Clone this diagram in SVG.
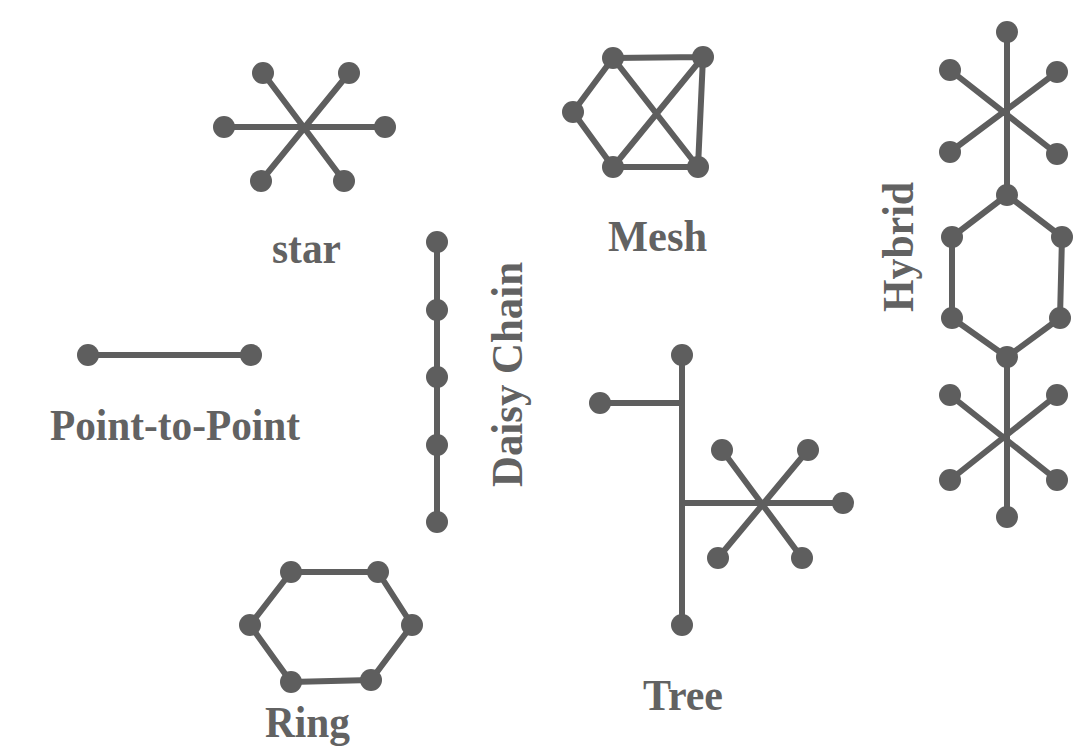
<svg xmlns="http://www.w3.org/2000/svg" width="1074" height="750" viewBox="0 0 1074 750">
<style>
.e{stroke:#5e5e5e;stroke-width:6;fill:none;stroke-linecap:round;stroke-linejoin:round}
.n{fill:#5e5e5e}
.t{font-family:"Liberation Serif","Times New Roman",serif;font-weight:bold;font-size:44px;fill:#626262}
</style>
<rect width="1074" height="750" fill="#ffffff"/>
<g id="connectors">
<path class="e" d="M224 127 L385 127 M263 73 L344 181 M349 73 L261 181"/>
<path class="e" d="M613 58 L703 57 L698 167 L613 167 L573 112 Z M613 58 L698 167 M703 57 L613 167"/>
<path class="e" d="M88 355 L251 355"/>
<path class="e" d="M437 242 L437 522"/>
<path class="e" d="M291 572 L378 572 L412 625 L371 680 L291 682 L250 625 Z"/>
<path class="e" d="M682 355 L682 625 M600 403 L682 403 M682 503 L843 503 M722 450 L802 558 M808 450 L718 558"/>
<path class="e" d="M1007 32 L1007 195 M950 70 L1057 154 M1057 72 L950 152"/>
<path class="e" d="M1007 195 L1062 237 L1060 318 L1007 357 L952 318 L952 237 Z"/>
<path class="e" d="M1007 357 L1007 517 M950 395 L1057 480 M1057 395 L950 480"/>
</g>
<g id="star">
<circle class="n" cx="263" cy="73" r="11"/><circle class="n" cx="349" cy="73" r="11"/>
<circle class="n" cx="224" cy="127" r="11"/><circle class="n" cx="385" cy="127" r="11"/>
<circle class="n" cx="261" cy="181" r="11"/><circle class="n" cx="344" cy="181" r="11"/>
<text class="t" x="272" y="263" textLength="69" lengthAdjust="spacingAndGlyphs">star</text>
</g>
<g id="mesh">
<circle class="n" cx="613" cy="58" r="11"/><circle class="n" cx="703" cy="57" r="11"/>
<circle class="n" cx="573" cy="112" r="11"/><circle class="n" cx="613" cy="167" r="11"/>
<circle class="n" cx="698" cy="167" r="11"/>
<text class="t" x="608" y="251" textLength="99" lengthAdjust="spacingAndGlyphs">Mesh</text>
</g>
<g id="point-to-point">
<circle class="n" cx="88" cy="355" r="11"/><circle class="n" cx="251" cy="355" r="11"/>
<text class="t" x="50" y="440" textLength="250" lengthAdjust="spacingAndGlyphs">Point-to-Point</text>
</g>
<g id="daisy-chain">
<circle class="n" cx="437" cy="242" r="11"/><circle class="n" cx="437" cy="310" r="11"/>
<circle class="n" cx="437" cy="377" r="11"/><circle class="n" cx="437" cy="445" r="11"/>
<circle class="n" cx="437" cy="522" r="11"/>
<text class="t" transform="translate(522 487) rotate(-90)" x="0" y="0" textLength="225" lengthAdjust="spacingAndGlyphs">Daisy Chain</text>
</g>
<g id="ring">
<circle class="n" cx="291" cy="572" r="11"/><circle class="n" cx="378" cy="572" r="11"/>
<circle class="n" cx="250" cy="625" r="11"/><circle class="n" cx="412" cy="625" r="11"/>
<circle class="n" cx="291" cy="682" r="11"/><circle class="n" cx="371" cy="680" r="11"/>
<text class="t" x="265" y="737" textLength="85" lengthAdjust="spacingAndGlyphs">Ring</text>
</g>
<g id="tree">
<circle class="n" cx="682" cy="355" r="11"/><circle class="n" cx="600" cy="403" r="11"/>
<circle class="n" cx="682" cy="625" r="11"/><circle class="n" cx="843" cy="503" r="11"/>
<circle class="n" cx="722" cy="450" r="11"/><circle class="n" cx="808" cy="450" r="11"/>
<circle class="n" cx="718" cy="558" r="11"/><circle class="n" cx="802" cy="558" r="11"/>
<text class="t" x="643" y="710" textLength="80" lengthAdjust="spacingAndGlyphs">Tree</text>
</g>
<g id="hybrid">
<circle class="n" cx="1007" cy="32" r="11"/>
<circle class="n" cx="950" cy="70" r="11"/><circle class="n" cx="1057" cy="72" r="11"/>
<circle class="n" cx="950" cy="152" r="11"/><circle class="n" cx="1057" cy="154" r="11"/>
<circle class="n" cx="1007" cy="195" r="11"/>
<circle class="n" cx="952" cy="237" r="11"/><circle class="n" cx="1062" cy="237" r="11"/>
<circle class="n" cx="952" cy="318" r="11"/><circle class="n" cx="1060" cy="318" r="11"/>
<circle class="n" cx="1007" cy="357" r="11"/>
<circle class="n" cx="950" cy="395" r="11"/><circle class="n" cx="1057" cy="395" r="11"/>
<circle class="n" cx="950" cy="480" r="11"/><circle class="n" cx="1057" cy="480" r="11"/>
<circle class="n" cx="1007" cy="517" r="11"/>
<text class="t" transform="translate(913 312) rotate(-90)" x="0" y="0" textLength="130" lengthAdjust="spacingAndGlyphs">Hybrid</text>
</g>
</svg>
